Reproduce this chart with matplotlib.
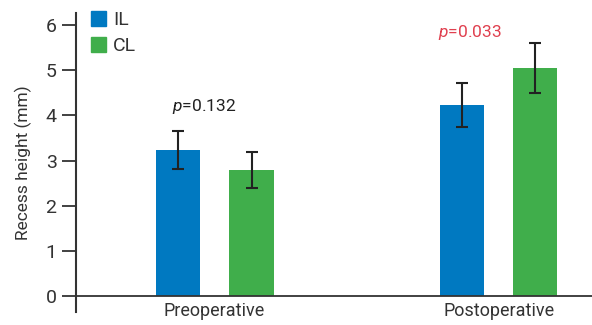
import matplotlib
matplotlib.use('Agg')
import matplotlib.pyplot as plt
from matplotlib.patches import Patch
import numpy as np

groups = ['Preoperative', 'Postoperative']
il_mean = [3.23, 4.23]
il_err = [0.42, 0.48]
cl_mean = [2.79, 5.05]
cl_err = [0.39, 0.55]
p_texts = ['0.132', '0.033']
p_pos = [(-0.15, 4.2), (0.787, 5.84)]
p_colors = ['#222222', '#e0404f']

plt.rcParams['font.family'] = ['Roboto', 'DejaVu Sans']
plt.rcParams['mathtext.fontset'] = 'custom'
plt.rcParams['mathtext.it'] = 'Roboto:italic'
plt.rcParams['mathtext.rm'] = 'Roboto'

blue = '#0079c1'
green = '#40ae4b'

fig = plt.figure(figsize=(5.92, 3.25), dpi=100)
ax = fig.add_axes([76/592, 13/325, 1 - 76/592, 1 - 26/325])

x = np.arange(len(groups))
off = 0.13
w = 0.155
ax.bar(x - off, il_mean, w, color=blue, zorder=2)
ax.bar(x + off, cl_mean, w, color=green, zorder=2)
ax.errorbar(x - off, il_mean, yerr=il_err, fmt='none', ecolor='#222222',
            elinewidth=1.5, capsize=4, capthick=1.5, zorder=3)
ax.errorbar(x + off, cl_mean, yerr=cl_err, fmt='none', ecolor='#222222',
            elinewidth=1.5, capsize=4, capthick=1.5, zorder=3)

ax.axhline(0, color='#333333', lw=1.3, zorder=4)

for t, (px, py), c in zip(p_texts, p_pos, p_colors):
    ax.text(px, py, '$p$=' + t, color=c, fontsize=12.5, ha='left', va='center')

ax.set_xlim(-0.488, 1.329)
ax.set_ylim(-0.354, 6.27)
ax.set_yticks(range(7))
ax.tick_params(axis='y', length=10, width=1.3, color='#333333', labelsize=14,
               labelcolor='#333333', pad=4)
ax.set_xticks(x)
ax.set_xticklabels(groups)
ax.tick_params(axis='x', length=0, labelsize=13, labelcolor='#333333', pad=-7)

for s in ['top', 'right', 'bottom']:
    ax.spines[s].set_visible(False)
ax.spines['left'].set_linewidth(1.5)
ax.spines['left'].set_color('#333333')

ax.set_ylabel('Recess height (mm)', fontsize=12.5, color='#333333', labelpad=10)

handles = [Patch(color=blue, label='IL'), Patch(color=green, label='CL')]
ax.legend(handles=handles, loc='upper left', bbox_to_anchor=(-0.005, 1.065),
          frameon=False, fontsize=14, handlelength=0.75, handleheight=0.8,
          handletextpad=0.4, labelspacing=0.4, labelcolor='#333333')

fig.savefig('out.png', dpi=100)
